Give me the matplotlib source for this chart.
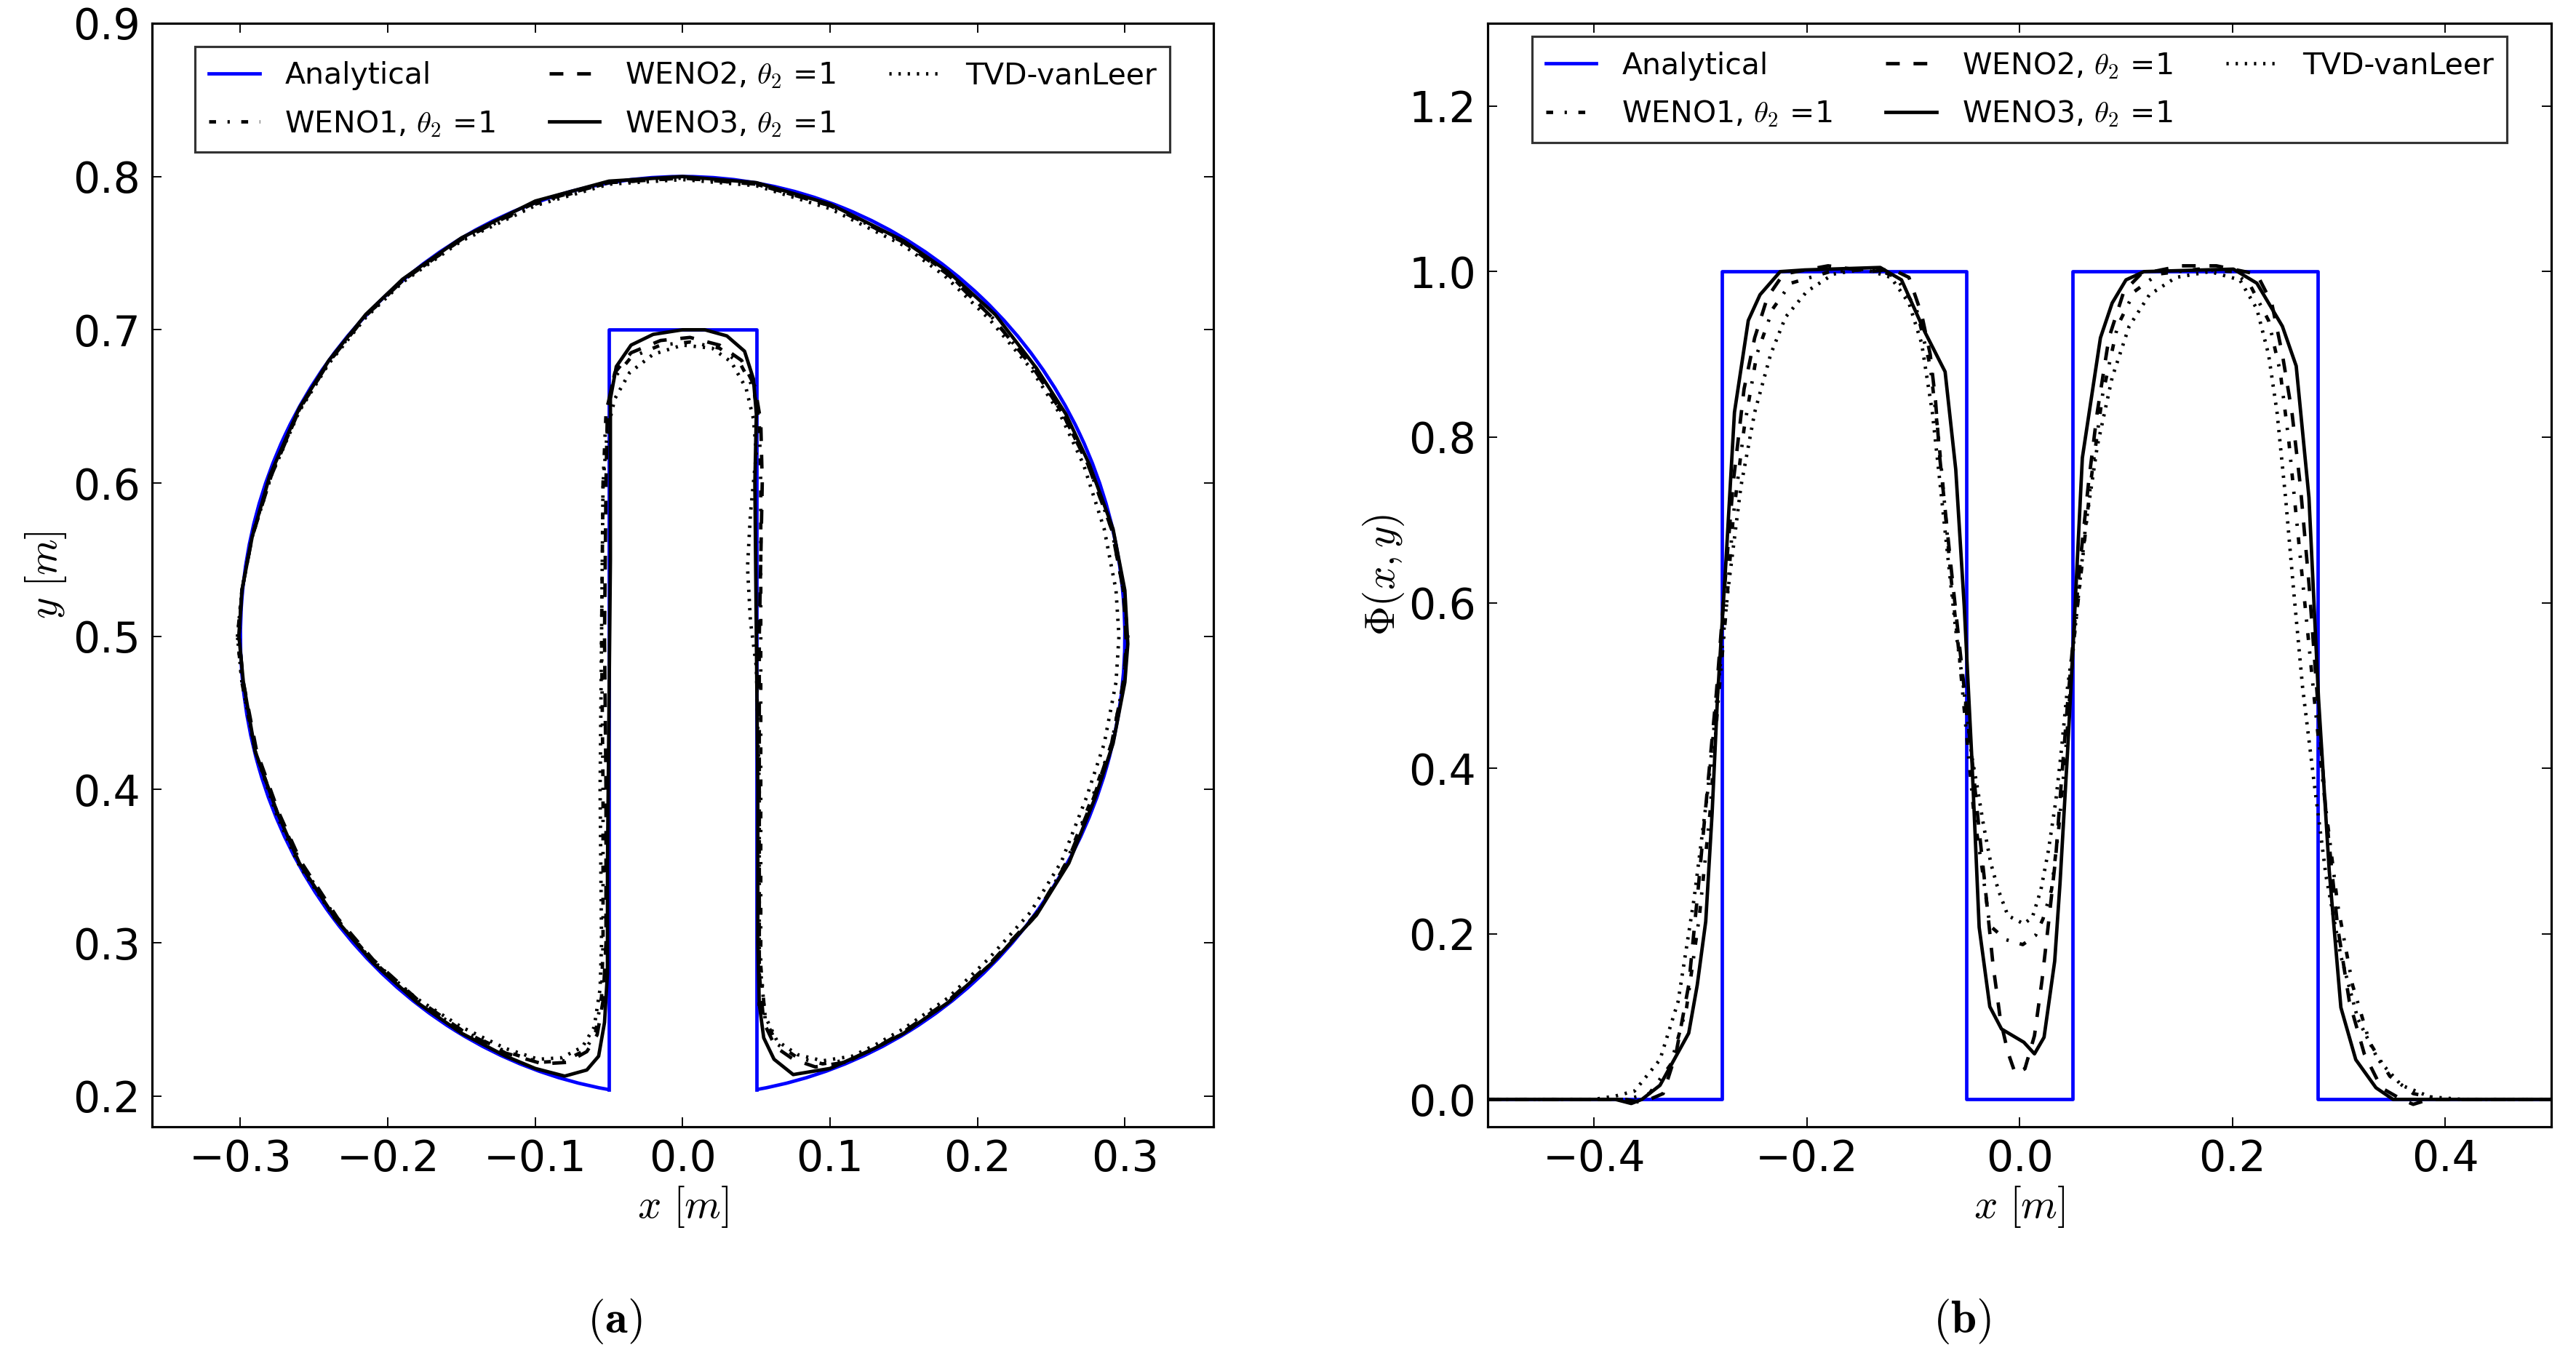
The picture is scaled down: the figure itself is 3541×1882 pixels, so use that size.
import numpy as np
import matplotlib
matplotlib.use("Agg")
import matplotlib.pyplot as plt
from matplotlib.patches import Arc

plt.rcParams["font.family"] = "DejaVu Sans"
plt.rcParams["mathtext.fontset"] = "cm"
plt.rcParams["xtick.direction"] = "in"
plt.rcParams["ytick.direction"] = "in"
plt.rcParams["xtick.top"] = True
plt.rcParams["ytick.right"] = True
plt.rcParams["xtick.major.size"] = 4
plt.rcParams["ytick.major.size"] = 4
plt.rcParams["xtick.major.width"] = 0.6
plt.rcParams["ytick.major.width"] = 0.6
plt.rcParams["axes.linewidth"] = 1.0
plt.rcParams["lines.scale_dashes"] = False
plt.rcParams["lines.dashed_pattern"] = [6, 6]
plt.rcParams["lines.dashdot_pattern"] = [3, 5, 1, 5]
plt.rcParams["lines.dotted_pattern"] = [1, 3]

labels = ["Analytical", r"WENO1, $\theta_2$ =1", r"WENO2, $\theta_2$ =1",
          r"WENO3, $\theta_2$ =1", "TVD-vanLeer"]

# ---- (a) contours of the slotted disk ----
disk_center = (0.0, 0.5)
disk_diameter = 0.6
arc_angles = (-80.4, 260.4)
slot_exact = [(-0.05, 0.2042), (-0.05, 0.70), (0.05, 0.70), (0.05, 0.2042)]

weno3_contour = [
    (0.052, 0.260), (0.055, 0.238), (0.062, 0.224), (0.075, 0.214), (0.100, 0.218),
    (0.130, 0.231), (0.150, 0.241), (0.180, 0.261), (0.210, 0.287), (0.240, 0.318),
    (0.262, 0.352), (0.280, 0.395), (0.292, 0.430), (0.300, 0.470), (0.302, 0.495),
    (0.300, 0.530), (0.292, 0.570), (0.276, 0.612), (0.260, 0.645), (0.240, 0.675),
    (0.212, 0.710), (0.180, 0.738), (0.150, 0.758), (0.100, 0.782), (0.050, 0.796),
    (0.000, 0.800), (-0.050, 0.797), (-0.100, 0.784), (-0.150, 0.760), (-0.190, 0.733),
    (-0.215, 0.710), (-0.240, 0.680), (-0.260, 0.649), (-0.280, 0.605), (-0.292, 0.565),
    (-0.299, 0.530), (-0.301, 0.500), (-0.298, 0.470), (-0.290, 0.425), (-0.275, 0.385),
    (-0.260, 0.352), (-0.235, 0.315), (-0.210, 0.287), (-0.180, 0.261), (-0.150, 0.241),
    (-0.120, 0.226), (-0.100, 0.218), (-0.080, 0.213), (-0.065, 0.217), (-0.057, 0.226),
    (-0.053, 0.248), (-0.051, 0.280), (-0.051, 0.350), (-0.050, 0.450), (-0.049, 0.550),
    (-0.049, 0.655), (-0.045, 0.676), (-0.035, 0.690), (-0.020, 0.697), (0.000, 0.700),
    (0.015, 0.700), (0.030, 0.696), (0.042, 0.686), (0.048, 0.668), (0.050, 0.645),
    (0.049, 0.600), (0.050, 0.500), (0.051, 0.400), (0.051, 0.300), (0.052, 0.260)]

weno2_contour = [
    (0.052, 0.280), (0.055, 0.248), (0.063, 0.232), (0.075, 0.224), (0.090, 0.219),
    (0.110, 0.222), (0.130, 0.231), (0.150, 0.242), (0.180, 0.262), (0.210, 0.288),
    (0.240, 0.319), (0.261, 0.353), (0.279, 0.395), (0.291, 0.430), (0.299, 0.470),
    (0.301, 0.495), (0.299, 0.530), (0.291, 0.570), (0.275, 0.612), (0.258, 0.645),
    (0.238, 0.675), (0.210, 0.708), (0.180, 0.736), (0.150, 0.757), (0.100, 0.781),
    (0.050, 0.795), (0.000, 0.799), (-0.050, 0.796), (-0.100, 0.783), (-0.150, 0.759),
    (-0.190, 0.732), (-0.215, 0.709), (-0.240, 0.679), (-0.260, 0.648), (-0.279, 0.605),
    (-0.292, 0.565), (-0.299, 0.530), (-0.301, 0.500), (-0.298, 0.470), (-0.289, 0.425),
    (-0.274, 0.385), (-0.259, 0.353), (-0.234, 0.316), (-0.210, 0.289), (-0.180, 0.263),
    (-0.150, 0.243), (-0.120, 0.228), (-0.095, 0.221), (-0.078, 0.222), (-0.065, 0.229),
    (-0.058, 0.240), (-0.054, 0.262), (-0.052, 0.300), (-0.052, 0.400), (-0.053, 0.500),
    (-0.052, 0.600), (-0.051, 0.650), (-0.046, 0.672), (-0.035, 0.685), (-0.015, 0.693),
    (0.005, 0.695), (0.025, 0.690), (0.040, 0.680), (0.049, 0.663), (0.053, 0.640),
    (0.054, 0.600), (0.052, 0.500), (0.052, 0.400), (0.052, 0.280)]

weno1_contour = [
    (0.053, 0.285), (0.056, 0.250), (0.064, 0.234), (0.078, 0.225), (0.095, 0.221),
    (0.115, 0.224), (0.130, 0.231), (0.150, 0.241), (0.180, 0.261), (0.210, 0.287),
    (0.240, 0.318), (0.260, 0.352), (0.278, 0.395), (0.291, 0.430), (0.299, 0.470),
    (0.302, 0.500), (0.299, 0.530), (0.291, 0.570), (0.275, 0.612), (0.258, 0.645),
    (0.238, 0.675), (0.210, 0.708), (0.180, 0.737), (0.150, 0.757), (0.100, 0.781),
    (0.050, 0.795), (0.000, 0.799), (-0.050, 0.796), (-0.100, 0.782), (-0.150, 0.759),
    (-0.190, 0.732), (-0.215, 0.709), (-0.240, 0.679), (-0.260, 0.648), (-0.279, 0.606),
    (-0.292, 0.566), (-0.299, 0.530), (-0.302, 0.500), (-0.299, 0.470), (-0.290, 0.425),
    (-0.275, 0.385), (-0.259, 0.352), (-0.235, 0.316), (-0.210, 0.288), (-0.180, 0.262),
    (-0.150, 0.243), (-0.120, 0.229), (-0.097, 0.222), (-0.080, 0.223), (-0.066, 0.230),
    (-0.059, 0.242), (-0.055, 0.265), (-0.054, 0.300), (-0.054, 0.400), (-0.055, 0.500),
    (-0.054, 0.600), (-0.052, 0.645), (-0.047, 0.668), (-0.035, 0.682), (-0.015, 0.690),
    (0.005, 0.692), (0.025, 0.688), (0.039, 0.678), (0.048, 0.662), (0.052, 0.640),
    (0.053, 0.600), (0.053, 0.500), (0.053, 0.400), (0.053, 0.285)]

tvd_contour = [
    (0.052, 0.290), (0.056, 0.252), (0.064, 0.236), (0.078, 0.227), (0.095, 0.223),
    (0.115, 0.226), (0.130, 0.233), (0.150, 0.244), (0.180, 0.264), (0.208, 0.290),
    (0.236, 0.320), (0.257, 0.353), (0.274, 0.395), (0.286, 0.430), (0.294, 0.470),
    (0.296, 0.500), (0.294, 0.530), (0.286, 0.570), (0.272, 0.612), (0.256, 0.645),
    (0.236, 0.675), (0.208, 0.707), (0.178, 0.735), (0.150, 0.755), (0.100, 0.779),
    (0.050, 0.794), (0.000, 0.798), (-0.050, 0.795), (-0.100, 0.781), (-0.150, 0.758),
    (-0.190, 0.731), (-0.215, 0.708), (-0.240, 0.678), (-0.260, 0.647), (-0.279, 0.605),
    (-0.292, 0.565), (-0.299, 0.530), (-0.302, 0.500), (-0.299, 0.470), (-0.290, 0.425),
    (-0.276, 0.385), (-0.261, 0.352), (-0.236, 0.316), (-0.211, 0.289), (-0.181, 0.264),
    (-0.150, 0.245), (-0.120, 0.231), (-0.098, 0.224), (-0.082, 0.225), (-0.068, 0.232),
    (-0.060, 0.245), (-0.056, 0.270), (-0.055, 0.300), (-0.056, 0.400), (-0.055, 0.500),
    (-0.054, 0.600), (-0.051, 0.635), (-0.046, 0.655), (-0.036, 0.672), (-0.020, 0.684),
    (0.000, 0.690), (0.020, 0.688), (0.033, 0.679), (0.043, 0.662), (0.048, 0.642),
    (0.050, 0.620), (0.046, 0.580), (0.044, 0.545), (0.046, 0.510), (0.050, 0.480),
    (0.052, 0.400), (0.052, 0.290)]

# ---- (b) profiles Phi(x, y) ----
exact_x = [-0.5, -0.28, -0.28, -0.05, -0.05, 0.05, 0.05, 0.28, 0.28, 0.5]
exact_phi = [0, 0, 1, 1, 0, 0, 1, 1, 0, 0]

weno3_x = [-0.50, -0.38, -0.365, -0.355, -0.338, -0.311, -0.303, -0.295, -0.289, -0.284,
           -0.276, -0.268, -0.255, -0.244, -0.225, -0.202, -0.131, -0.111, -0.089, -0.070,
           -0.060, -0.052, -0.045, -0.038, -0.028, -0.017, 0.004, 0.014, 0.023, 0.033,
           0.038, 0.045, 0.050, 0.059, 0.076, 0.087, 0.100, 0.117, 0.201, 0.223,
           0.247, 0.260, 0.272, 0.281, 0.291, 0.302, 0.316, 0.335, 0.351, 0.50]
weno3_phi = [0.0, 0.0, -0.005, 0.0, 0.017, 0.080, 0.138, 0.215, 0.346, 0.484,
             0.650, 0.830, 0.941, 0.972, 1.0, 1.002, 1.005, 0.990, 0.927, 0.879,
             0.761, 0.595, 0.415, 0.208, 0.112, 0.085, 0.069, 0.055, 0.075, 0.167,
             0.261, 0.418, 0.540, 0.775, 0.920, 0.962, 0.990, 1.0, 1.003, 0.986,
             0.934, 0.886, 0.727, 0.484, 0.277, 0.111, 0.048, 0.014, 0.0, 0.0]

weno2_x = [-0.50, -0.37, -0.355, -0.335, -0.323, -0.311, -0.302, -0.293, -0.285, -0.277,
           -0.269, -0.259, -0.249, -0.237, -0.222, -0.180, -0.140, -0.120, -0.104, -0.092,
           -0.084, -0.079, -0.075, -0.070, -0.065, -0.057, -0.051, -0.045, -0.038, -0.033,
           -0.025, -0.018, -0.011, -0.004, 0.005, 0.014, 0.021, 0.028, 0.034, 0.039,
           0.045, 0.057, 0.065, 0.073, 0.084, 0.098, 0.114, 0.152, 0.185, 0.223,
           0.237, 0.247, 0.256, 0.264, 0.272, 0.280, 0.288, 0.299, 0.310, 0.324,
           0.340, 0.359, 0.370, 0.385, 0.50]
weno2_phi = [0.0, 0.0, -0.004, 0.007, 0.055, 0.138, 0.256, 0.381, 0.491, 0.623,
             0.747, 0.858, 0.920, 0.969, 0.997, 1.007, 1.0, 1.003, 0.993, 0.948,
             0.900, 0.844, 0.775, 0.713, 0.650, 0.554, 0.484, 0.415, 0.325, 0.265,
             0.163, 0.096, 0.057, 0.031, 0.037, 0.077, 0.143, 0.222, 0.293, 0.379,
             0.477, 0.650, 0.747, 0.830, 0.920, 0.976, 0.997, 1.007, 1.007, 0.997,
             0.962, 0.900, 0.830, 0.740, 0.623, 0.484, 0.346, 0.208, 0.118, 0.055,
             0.014, 0.0, -0.006, 0.0, 0.0]

weno1_x = [-0.50, -0.37, -0.348, -0.328, -0.313, -0.301, -0.291, -0.284, -0.276, -0.269,
           -0.259, -0.247, -0.232, -0.215, -0.178, -0.134, -0.116, -0.097, -0.084, -0.077,
           -0.071, -0.065, -0.057, -0.050, -0.043, -0.035, -0.028, -0.013, 0.003, 0.015,
           0.022, 0.030, 0.037, 0.043, 0.051, 0.059, 0.067, 0.078, 0.092, 0.108,
           0.130, 0.168, 0.201, 0.217, 0.234, 0.245, 0.253, 0.261, 0.269, 0.277,
           0.287, 0.299, 0.313, 0.329, 0.348, 0.370, 0.397, 0.50]
weno1_phi = [0.0, 0.0, 0.007, 0.042, 0.111, 0.221, 0.346, 0.471, 0.588, 0.706,
             0.810, 0.900, 0.955, 0.986, 1.0, 1.003, 0.993, 0.955, 0.886, 0.810,
             0.727, 0.637, 0.540, 0.443, 0.346, 0.277, 0.210, 0.193, 0.187, 0.198,
             0.218, 0.253, 0.330, 0.415, 0.554, 0.650, 0.747, 0.851, 0.934, 0.976,
             0.997, 1.003, 1.0, 0.983, 0.941, 0.879, 0.796, 0.692, 0.588, 0.484,
             0.360, 0.235, 0.138, 0.069, 0.028, 0.007, 0.0, 0.0]

tvd_x = [-0.50, -0.40, -0.38, -0.362, -0.338, -0.321, -0.306, -0.293, -0.284, -0.274,
         -0.262, -0.249, -0.234, -0.220, -0.200, -0.175, -0.146, -0.121, -0.104, -0.092,
         -0.082, -0.075, -0.067, -0.060, -0.052, -0.045, -0.040, -0.034, -0.027, -0.020,
         -0.011, 0.004, 0.012, 0.020, 0.027, 0.034, 0.039, 0.045, 0.051, 0.062,
         0.073, 0.087, 0.103, 0.122, 0.147, 0.179, 0.207, 0.223, 0.234, 0.242,
         0.250, 0.258, 0.266, 0.277, 0.288, 0.302, 0.318, 0.337, 0.359, 0.386,
         0.416, 0.50]
tvd_phi = [0.0, 0.0, 0.004, 0.010, 0.048, 0.118, 0.242, 0.374, 0.491, 0.616,
           0.740, 0.830, 0.900, 0.945, 0.976, 0.997, 1.003, 0.993, 0.962, 0.913,
           0.830, 0.747, 0.650, 0.567, 0.491, 0.415, 0.379, 0.332, 0.285, 0.253,
           0.222, 0.212, 0.220, 0.253, 0.300, 0.360, 0.418, 0.497, 0.554, 0.692,
           0.789, 0.872, 0.934, 0.972, 0.993, 1.0, 0.990, 0.955, 0.900, 0.830,
           0.727, 0.609, 0.498, 0.381, 0.270, 0.173, 0.097, 0.048, 0.017, 0.003,
           0.0, 0.0]

styles = {"weno1": "-.", "weno2": "--", "weno3": "-", "tvd": ":"}
lw = 1.5

fig = plt.figure(figsize=(3541 / 227, 1882 / 227), dpi=227)
ax1 = fig.add_axes([0.059, 0.177, 0.412, 0.806])
ax2 = fig.add_axes([0.5775, 0.177, 0.413, 0.806])

# left panel
ax1.add_patch(Arc(disk_center, disk_diameter, disk_diameter, theta1=arc_angles[0],
                  theta2=arc_angles[1], color="b", lw=lw))
sx, sy = zip(*slot_exact)
ax1.plot(sx, sy, "b-", lw=lw, label=labels[0])
for key, data, lab in [("weno1", weno1_contour, labels[1]),
                       ("weno2", weno2_contour, labels[2]),
                       ("weno3", weno3_contour, labels[3]),
                       ("tvd", tvd_contour, labels[4])]:
    cx, cy = zip(*data)
    ax1.plot(cx, cy, color="k", ls=styles[key], lw=lw, label=lab)
ax1.set_xlim(-0.36, 0.36)
ax1.set_ylim(0.18, 0.9)
ax1.set_xticks([-0.3, -0.2, -0.1, 0.0, 0.1, 0.2, 0.3])
ax1.set_xlabel(r"$x\ [m]$", fontsize=18, labelpad=2)
ax1.set_ylabel(r"$y\ [m]$", fontsize=18, labelpad=2)

# right panel
ax2.plot(exact_x, exact_phi, "b-", lw=lw, label=labels[0])
ax2.plot(weno1_x, weno1_phi, color="k", ls=styles["weno1"], lw=lw, label=labels[1])
ax2.plot(weno2_x, weno2_phi, color="k", ls=styles["weno2"], lw=lw, label=labels[2])
ax2.plot(weno3_x, weno3_phi, color="k", ls=styles["weno3"], lw=lw, label=labels[3])
ax2.plot(tvd_x, tvd_phi, color="k", ls=styles["tvd"], lw=lw, label=labels[4])
ax2.set_xlim(-0.5, 0.5)
ax2.set_ylim(-0.033, 1.3)
ax2.set_xticks([-0.4, -0.2, 0.0, 0.2, 0.4])
ax2.set_yticks([0.0, 0.2, 0.4, 0.6, 0.8, 1.0, 1.2])
ax2.set_xlabel(r"$x\ [m]$", fontsize=18, labelpad=2)
ax2.set_ylabel(r"$\Phi(x,y)$", fontsize=18, labelpad=1)

for ax, top in [(ax1, 0.979), (ax2, 0.988)]:
    ax.tick_params(labelsize=18.5, pad=5)
    leg = ax.legend(loc="upper center", bbox_to_anchor=(0.5, top), ncol=3,
                    fontsize=13.0, borderaxespad=0, fancybox=False,
                    handlelength=1.7, handletextpad=0.85, columnspacing=1.8,
                    labelspacing=0.6, borderpad=0.45)
    leg.get_frame().set_edgecolor("k")
    leg.get_frame().set_linewidth(1.0)

fig.text(0.2385, 0.035, r"$(\mathbf{a})$", ha="center", va="center", fontsize=20)
fig.text(0.7615, 0.035, r"$(\mathbf{b})$", ha="center", va="center", fontsize=20)

fig.savefig("out.png", dpi=227)
